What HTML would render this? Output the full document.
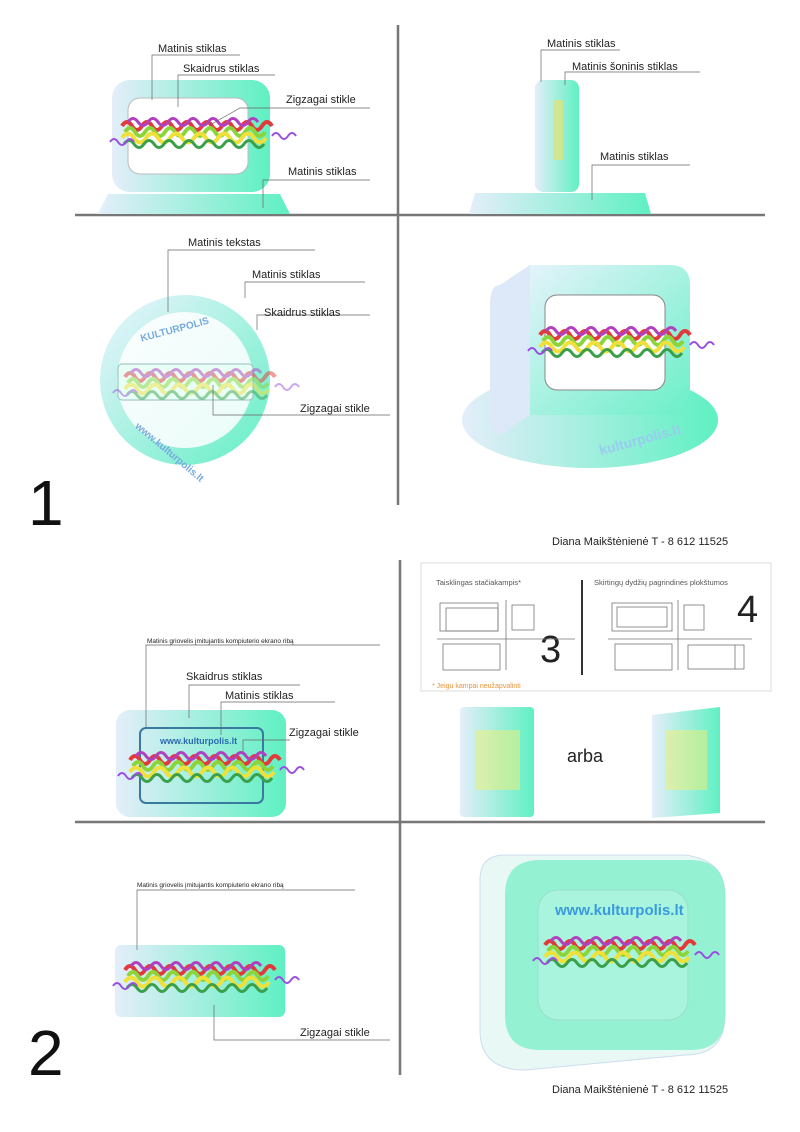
<!DOCTYPE html>
<html><head><meta charset="utf-8"><style>
html,body{margin:0;padding:0;background:#fff;}
svg{display:block;font-family:"Liberation Sans",sans-serif;}
</style></head><body>
<svg width="800" height="1132" viewBox="0 0 800 1132" xmlns="http://www.w3.org/2000/svg">
<defs>
<linearGradient id="m" x1="0" y1="0" x2="1" y2="0"><stop offset="0" stop-color="#e4eefa"/><stop offset="1" stop-color="#5ff0c2"/></linearGradient>
<linearGradient id="m2" x1="0" y1="0" x2="1" y2="1"><stop offset="0" stop-color="#eef4ff"/><stop offset="1" stop-color="#62efc4"/></linearGradient>
<g id="zz">
<path d="M0,10 q5,-8 10,0 t10,0 t10,0 t10,0 t10,0 t10,0 t10,0 t10,0 t10,0 t10,0 t10,0 t10,0 t10,0 t10,0 t10,0" fill="none" stroke="#e23a3a" stroke-width="4"/>
<path d="M3,16 q5,-8 10,0 t10,0 t10,0 t10,0 t10,0 t10,0 t10,0 t10,0 t10,0 t10,0 t10,0 t10,0 t10,0 t10,0" fill="none" stroke="#8bd43a" stroke-width="4"/>
<path d="M0,22 q6,-9 12,0 t12,0 t12,0 t12,0 t12,0 t12,0 t12,0 t12,0 t12,0 t12,0 t12,0 t12,0" fill="none" stroke="#f0e03a" stroke-width="4"/>
<path d="M6,6 q5,-7 10,0 t10,0 t10,0 t10,0 t10,0 t10,0 t10,0 t10,0 t10,0 t10,0 t10,0 t10,0 t10,0" fill="none" stroke="#b040c0" stroke-width="3"/>
<path d="M2,28 q5,-7 10,0 t10,0 t10,0 t10,0 t10,0 t10,0 t10,0 t10,0 t10,0 t10,0 t10,0 t10,0 t10,0 t10,0" fill="none" stroke="#3aa04a" stroke-width="3"/>
<path d="M-12,26 q4,-6 8,0 t8,0 t8,0" fill="none" stroke="#9a4de0" stroke-width="2"/>
<path d="M150,20 q4,-6 8,0 t8,0 t8,0" fill="none" stroke="#9a4de0" stroke-width="2"/>
</g>
</defs>
<g stroke="#777" stroke-width="2.5">
<line x1="398" y1="25" x2="398" y2="505"/>
<line x1="75" y1="215" x2="765" y2="215"/>
<line x1="400" y1="560" x2="400" y2="1075"/>
<line x1="75" y1="822" x2="765" y2="822"/>
</g>
<g font-size="11" fill="#222">
<!-- Q1 -->
<path d="M108,194 h172 l10,20 h-192z" fill="url(#m)"/>
<rect x="112" y="80" width="158" height="112" rx="18" fill="url(#m)"/>
<rect x="128" y="98" width="120" height="76" rx="12" fill="#fff" stroke="#bbb"/>
<use href="#zz" x="122" y="116" transform="scale(1)"/>
<g stroke="#666" stroke-width="0.7" fill="none">
<polyline points="152,100 152,55 240,55"/><polyline points="178,107 178,75 275,75"/><polyline points="210,125 240,108 370,108"/><polyline points="263,208 263,180 370,180"/><polyline points="188,168 188,168"/>
</g>
<text x="158" y="52">Matinis stiklas</text><text x="183" y="72">Skaidrus stiklas</text><text x="286" y="103">Zigzagai stikle</text><text x="288" y="175">Matinis stiklas</text>
<!-- Q2 -->
<path d="M475,193 h170 l6,21 h-182z" fill="url(#m)"/>
<rect x="535" y="80" width="44" height="112" rx="8" fill="url(#m)"/>
<rect x="553" y="100" width="10" height="60" fill="#f0e060" opacity="0.6"/>
<g stroke="#666" stroke-width="0.7" fill="none"><polyline points="541,82 541,50 620,50"/><polyline points="565,85 565,72 700,72"/><polyline points="592,200 592,165 690,165"/></g>
<text x="547" y="47">Matinis stiklas</text><text x="572" y="70">Matinis šoninis stiklas</text><text x="600" y="160">Matinis stiklas</text>
<!-- Q3 -->
<circle cx="185" cy="380" r="85" fill="url(#m2)"/>
<circle cx="185" cy="380" r="68" fill="#fff" opacity="0.85"/>
<rect x="118" y="364" width="135" height="36" rx="4" fill="#e8fff6" stroke="#9bb"/>
<use href="#zz" x="125" y="367" transform="translate(0,0)" opacity="0.5"/>
<text x="140" y="330" font-size="10" font-weight="bold" fill="#7ad" transform="rotate(-15 185 330)">KULTURPOLIS</text>
<text x="130" y="440" font-size="10" font-weight="bold" fill="#7ad" transform="rotate(40 150 440)">www.kulturpolis.lt</text>
<g stroke="#666" stroke-width="0.7" fill="none"><polyline points="168,312 168,250 315,250"/><polyline points="245,298 245,282 365,282"/><polyline points="257,330 257,315 370,315"/><polyline points="213,385 213,415 390,415"/></g>
<text x="188" y="246">Matinis tekstas</text><text x="252" y="278">Matinis stiklas</text><text x="264" y="316">Skaidrus stiklas</text><text x="300" y="412">Zigzagai stikle</text>
<!-- Q4 -->
<ellipse cx="590" cy="420" rx="128" ry="48" fill="url(#m)"/>
<path d="M500,285 l30,-20 h140 q20,0 20,20 v110 q0,20 -20,20 h-140 l-30,20z" fill="url(#m2)"/>
<path d="M500,285 q-10,0 -10,20 v110 q0,20 10,20 l30,-20 v-150z" fill="#dde8f8"/>
<rect x="545" y="295" width="120" height="95" rx="12" fill="#fff" stroke="#888"/>
<use href="#zz" x="540" y="325" transform="translate(0,0)"/>
<text x="600" y="450" font-size="14" font-weight="bold" fill="#9ce" transform="rotate(-15 620 450)">kulturpolis.lt</text>
<text x="28" y="525" font-size="64" fill="#111">1</text>
<text x="552" y="545" font-size="11">Diana Maikštėnienė T - 8 612 11525</text>
<!-- inset 3/4 -->
<rect x="421" y="563" width="350" height="128" fill="#fff" stroke="#ddd"/>
<line x1="582" y1="580" x2="582" y2="675" stroke="#333" stroke-width="2"/>
<text x="436" y="585" font-size="7.5" fill="#555">Taisklingas stačiakampis*</text>
<text x="594" y="585" font-size="7.5" fill="#555">Skirtingų dydžių pagrindinės plokštumos</text>
<text x="432" y="688" font-size="7" fill="#e8933a">* Jeigu kampai neužapvalinti</text>
<text x="540" y="662" font-size="38">3</text><text x="737" y="622" font-size="38">4</text>
<g fill="none" stroke="#777" stroke-width="0.8">
<rect x="440" y="603" width="58" height="28"/><rect x="446" y="608" width="52" height="23"/><rect x="512" y="605" width="22" height="25"/>
<line x1="437" y1="639" x2="575" y2="639"/><line x1="506" y1="600" x2="506" y2="670"/><rect x="443" y="644" width="57" height="26"/>
<rect x="612" y="603" width="60" height="28"/><rect x="617" y="607" width="50" height="20"/><rect x="684" y="605" width="20" height="25"/>
<line x1="608" y1="639" x2="752" y2="639"/><line x1="678" y1="600" x2="678" y2="670"/><rect x="615" y="644" width="57" height="26"/><rect x="688" y="645" width="56" height="24"/><line x1="735" y1="645" x2="735" y2="669"/>
</g>
<rect x="460" y="707" width="74" height="110" rx="4" fill="url(#m)"/><rect x="475" y="730" width="45" height="60" fill="#f0f070" opacity="0.5"/>
<path d="M652,715 l68,-8 v106 l-68,5z" fill="url(#m)"/><rect x="665" y="730" width="42" height="60" fill="#f0f070" opacity="0.5"/>
<text x="567" y="762" font-size="18">arba</text>
<!-- Q6 -->
<rect x="116" y="710" width="170" height="107" rx="14" fill="url(#m)"/>
<rect x="140" y="728" width="123" height="75" rx="6" fill="none" stroke="#3a7aa0" stroke-width="2"/>
<text x="160" y="744" font-size="9" font-weight="bold" fill="#2a6ab0">www.kulturpolis.lt</text>
<use href="#zz" x="130" y="750"/>
<g stroke="#666" stroke-width="0.7" fill="none"><polyline points="146,727 146,645 380,645"/><polyline points="189,718 189,685 300,685"/><polyline points="221,735 221,702 335,702"/><polyline points="243,752 243,740 290,740"/></g>
<text x="147" y="643" font-size="6.5">Matinis griovelis įmitujantis kompiuterio ekrano ribą</text>
<text x="186" y="680">Skaidrus stiklas</text><text x="225" y="699">Matinis stiklas</text><text x="289" y="736">Zigzagai stikle</text>
<!-- Q7 -->
<rect x="115" y="945" width="170" height="72" rx="6" fill="url(#m)"/>
<use href="#zz" x="125" y="960"/>
<g stroke="#666" stroke-width="0.7" fill="none"><polyline points="137,950 137,890 355,890"/><polyline points="214,1005 214,1040 390,1040"/></g>
<text x="137" y="887" font-size="6.5">Matinis griovelis įmitujantis kompiuterio ekrano ribą</text>
<text x="300" y="1036">Zigzagai stikle</text>
<!-- Q8 -->
<path d="M480,880 q0,-25 25,-25 h180 q40,5 40,40 v120 q0,40 -40,40 l-160,15 q-45,0 -45,-40z" fill="#e8f8f4" stroke="#cde"/>
<path d="M540,860 h150 q35,0 35,35 v120 q0,35 -35,35 h-150 q-35,0 -35,-35 v-120 q0,-35 35,-35z" fill="#78f0c8" opacity="0.75"/>
<rect x="538" y="890" width="150" height="130" rx="20" fill="#a8f4dc" stroke="#9dc"/>
<text x="555" y="915" font-size="15" font-weight="bold" fill="#3a9ae0">www.kulturpolis.lt</text>
<use href="#zz" x="545" y="935"/>
<text x="28" y="1075" font-size="64" fill="#111">2</text>
<text x="552" y="1093" font-size="11">Diana Maikštėnienė T - 8 612 11525</text>
</g>
</svg>
</body></html>
